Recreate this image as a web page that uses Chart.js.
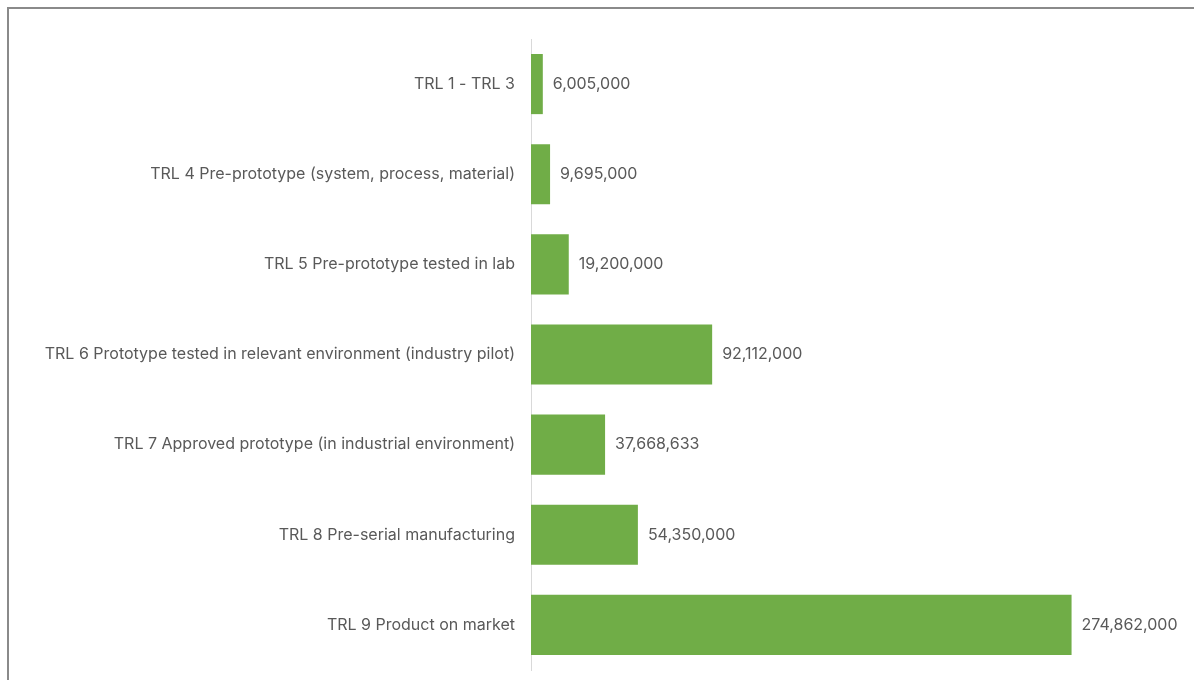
<!DOCTYPE html>
<html>
<head>
<meta charset="utf-8">
<script src="https://cdn.jsdelivr.net/npm/chart.js@4.4.1/dist/chart.umd.min.js"></script>
<style>
  html, body { margin: 0; padding: 0; background: #fff; overflow: hidden; }
  #frame {
    position: absolute; left: 7px; top: 7px;
    width: 1400px; height: 900px;
    border: 2px solid #8a8a8a;
    box-sizing: border-box;
  }
  #chartTrl { position: absolute; left: 0; top: 0; }
</style>
</head>
<body>
<div id="frame"></div>
<canvas id="chartTrl" width="1194" height="680"></canvas>
<script>
// funding per technology readiness level
const trlLabels = [
  'TRL 1 - TRL 3',
  'TRL 4 Pre-prototype (system, process, material)',
  'TRL 5 Pre-prototype tested in lab',
  'TRL 6 Prototype tested in relevant environment (industry pilot)',
  'TRL 7 Approved prototype (in industrial environment)',
  'TRL 8 Pre-serial manufacturing',
  'TRL 9 Product on market'
];
const trlAmounts = [6005000, 9695000, 19200000, 92112000, 37668633, 54350000, 274862000];
const axisMax = 300000000;

const textColor = '#595959';
const fontName = 'Inter';

// write the value just past the end of each bar
const barValueLabels = {
  id: 'barValueLabels',
  afterDatasetsDraw(chart) {
    const ctx = chart.ctx;
    const meta = chart.getDatasetMeta(0);
    ctx.save();
    ctx.fillStyle = textColor;
    ctx.font = '16px ' + fontName;
    ctx.textAlign = 'left';
    ctx.textBaseline = 'middle';
    meta.data.forEach((bar, i) => {
      const txt = trlAmounts[i].toLocaleString('en-US');
      ctx.fillText(txt, bar.x + 10, bar.y);
    });
    ctx.restore();
  }
};

const ctx = document.getElementById('chartTrl').getContext('2d');
const trlChart = new Chart(ctx, {
  type: 'bar',
  data: {
    labels: trlLabels,
    datasets: [{
      data: trlAmounts,
      backgroundColor: '#70AD47',
      borderWidth: 0,
      barPercentage: 0.667,
      categoryPercentage: 1.0
    }]
  },
  options: {
    indexAxis: 'y',
    responsive: false,
    animation: false,
    layout: {
      padding: { left: 0, right: 73, top: 39, bottom: 10 }
    },
    plugins: {
      legend: { display: false },
      tooltip: { enabled: false }
    },
    scales: {
      x: {
        display: false,
        min: 0,
        max: axisMax
      },
      y: {
        afterFit(scale) {
          scale.width = 531;
          // labels sit at bar centres, no extra room needed above/below
          scale.paddingTop = 0;
          scale.paddingBottom = 0;
        },
        grid: { display: false, drawTicks: false },
        border: { display: true, color: '#d9d9d9', width: 1 },
        ticks: {
          color: textColor,
          padding: 16,
          font: { family: fontName, size: 16 }
        }
      }
    }
  },
  plugins: [barValueLabels]
});
</script>
</body>
</html>
